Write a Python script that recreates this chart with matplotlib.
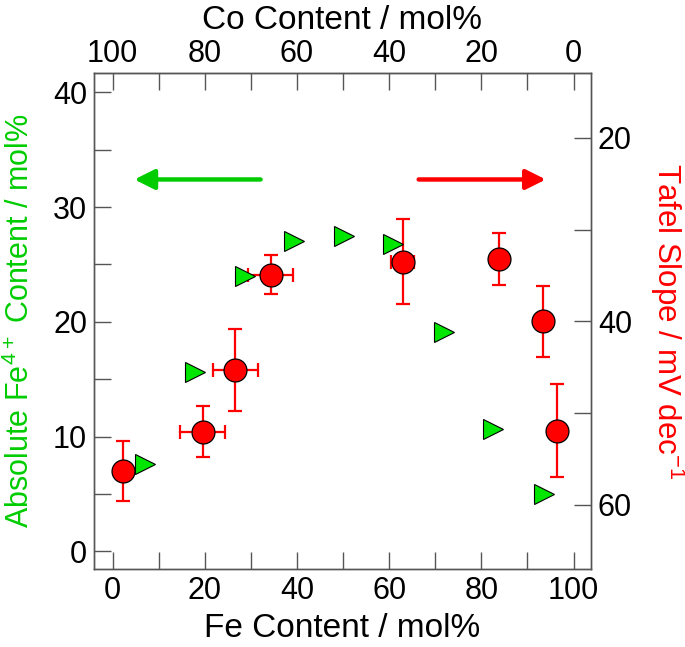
import matplotlib
matplotlib.use('Agg')
import matplotlib.pyplot as plt
import numpy as np

# --- data ---
# Fe4+ content (left axis, green triangles)
fe4_x = [7.0, 17.9, 28.7, 39.4, 50.2, 60.9, 71.8, 82.6, 93.5]
fe4_y = [7.6, 15.6, 24.0, 27.0, 27.5, 26.8, 19.1, 10.7, 5.0]

# Tafel slope (right axis, red circles)
tafel_x = [2.2, 19.5, 26.6, 34.3, 62.9, 83.8, 93.4, 96.5]
tafel_y = [56.3, 52.0, 45.3, 34.9, 33.5, 33.2, 40.0, 51.9]
tafel_yerr = [3.3, 2.8, 4.5, 2.1, 4.6, 2.8, 3.9, 5.1]
tafel_xerr = [0, 4.9, 4.9, 4.9, 2.5, 0, 0, 0]

green = '#00CC00'
tri_green = '#00E600'
red = '#FF0000'

plt.rcParams['font.family'] = ['Liberation Sans', 'DejaVu Sans']
plt.rcParams['mathtext.fontset'] = 'custom'
plt.rcParams['mathtext.rm'] = 'Liberation Sans'
plt.rcParams['mathtext.default'] = 'regular'

fig = plt.figure(figsize=(6.85, 6.47), dpi=100)
ax1 = fig.add_axes([0.1372, 0.1206, 0.7256, 0.7666])
ax2 = ax1.twinx()

ax1.set_xlim(-4.06, 103.8)
ax1.set_ylim(-1.54, 41.68)
ax2.set_ylim(66.97, 12.95)

# error bars first, then triangles, then circles on top
ax2.errorbar(tafel_x, tafel_y, yerr=tafel_yerr, xerr=tafel_xerr, fmt='none',
             ecolor=red, elinewidth=1.6, capsize=5, capthick=1.6, zorder=2)
ax2.plot(fe4_x, fe4_y, linestyle='none', marker='>', markersize=14,
         markerfacecolor=tri_green, markeredgecolor='black', markeredgewidth=0.8,
         transform=ax1.transData, zorder=3)
ax2.plot(tafel_x, tafel_y, linestyle='none', marker='o', markersize=16.5,
         markerfacecolor=red, markeredgecolor='black', markeredgewidth=0.9, zorder=4)

# arrows pointing to the respective axes
ax1.annotate('', xy=(4.1, 32.4), xytext=(32.7, 32.4),
             arrowprops=dict(arrowstyle='-|>', color=green, lw=3.2, mutation_scale=30))
ax1.annotate('', xy=(94.6, 32.4), xytext=(65.8, 32.4),
             arrowprops=dict(arrowstyle='-|>', color=red, lw=3.2, mutation_scale=30))

# ticks
ax1.set_xticks(np.arange(0, 101, 20))
ax1.set_xticks(np.arange(10, 100, 20), minor=True)
ax1.set_yticks(np.arange(0, 41, 10))
ax1.set_yticks(np.arange(5, 40, 10), minor=True)
ax2.set_yticks([20, 40, 60])
ax2.set_yticks([30, 50], minor=True)

for a in (ax1, ax2):
    a.tick_params(which='both', direction='in', length=12, width=1, color='#555555',
                  labelsize=22, pad=5)
    for s in a.spines.values():
        s.set_color('#555555')
        s.set_linewidth(1)

top = ax1.secondary_xaxis('top', functions=(lambda x: 100 - x, lambda x: 100 - x))
top.set_xticks(np.arange(0, 101, 20))
top.set_xticks(np.arange(10, 100, 20), minor=True)
top.tick_params(which='both', direction='in', length=12, width=1, color='#555555',
                labelsize=22, pad=3)
top.spines['top'].set_color('#555555')
top.set_xlabel('Co Content / mol%', fontsize=24, labelpad=7)

ax1.set_xlabel('Fe Content / mol%', fontsize=24, labelpad=5)
ax1.set_ylabel(r'Absolute Fe$^{4+}$ Content / mol%', fontsize=22, color=green, labelpad=12)
ax2.set_ylabel(r'Tafel Slope / mV dec$^{-1}$', fontsize=22.5, color=red,
               rotation=270, labelpad=39)

fig.savefig('out.png', dpi=100)
